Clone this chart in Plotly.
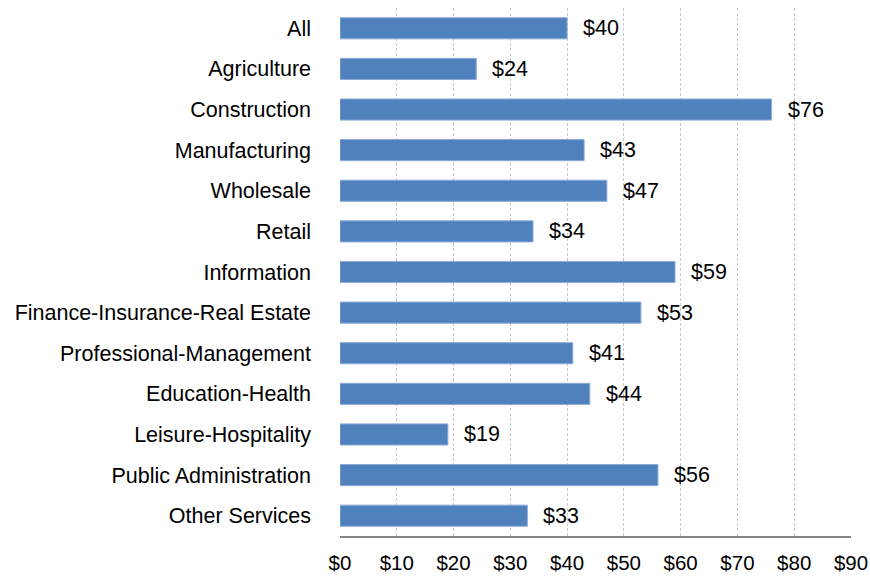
import plotly.graph_objects as go

# Average weekly value by industry, in dollars
industries = [
    "All", "Agriculture", "Construction", "Manufacturing", "Wholesale",
    "Retail", "Information", "Finance-Insurance-Real Estate",
    "Professional-Management", "Education-Health", "Leisure-Hospitality",
    "Public Administration", "Other Services",
]
values = [40, 24, 76, 43, 47, 34, 59, 53, 41, 44, 19, 56, 33]

tick_vals = list(range(0, 100, 10))
tick_text = [f"${v}" for v in tick_vals]

FONT = "Liberation Sans, Arial, sans-serif"
FSIZE = 21.5

fig = go.Figure(
    go.Bar(
        x=values,
        y=industries,
        orientation="h",
        width=0.52,
        marker=dict(color="#4F81BD", line=dict(color="#8EAADB", width=1)),
        hoverinfo="skip",
    )
)

# Value labels to the right of each bar
for ind, v in zip(industries, values):
    fig.add_annotation(
        x=v, y=ind, text=f"${v}", showarrow=False,
        xanchor="left", yanchor="middle", xshift=14,
        font=dict(family=FONT, size=FSIZE, color="#000000"),
    )

fig.update_layout(
    width=870, height=580,
    margin=dict(l=340, r=19, t=8, b=44),
    paper_bgcolor="white", plot_bgcolor="white",
    showlegend=False,
    font=dict(family=FONT, size=FSIZE, color="#000000"),
    xaxis=dict(
        range=[0, 90], tickvals=tick_vals, ticktext=tick_text,
        tickfont=dict(size=20.5),
        showgrid=True, gridcolor="#C8C8C8", griddash="3px,2px", gridwidth=1,
        zeroline=False, showline=True, linecolor="#868686", linewidth=2,
        ticks="", ticklabelstandoff=7, ticklabeloverflow="allow",
        automargin=False, fixedrange=True,
    ),
    yaxis=dict(
        autorange="reversed", showgrid=False, zeroline=False, showline=False,
        ticks="", ticklabelstandoff=28, automargin=False, fixedrange=True,
    ),
)

fig.write_html("out.html")
